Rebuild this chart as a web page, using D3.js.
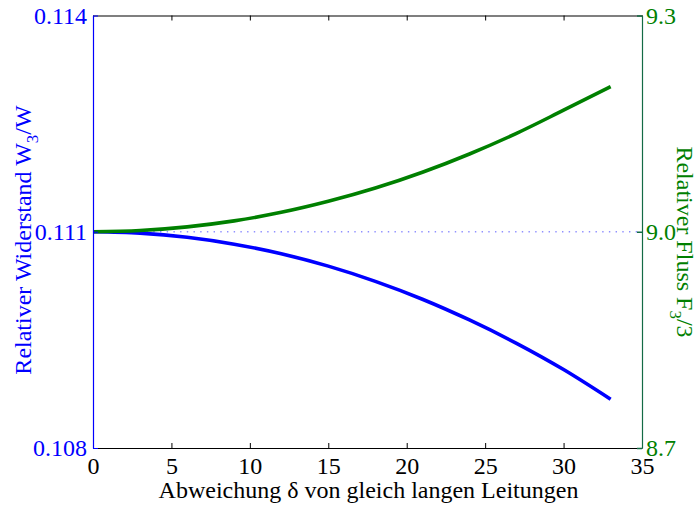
<!DOCTYPE html>
<html>
<head>
<meta charset="utf-8">
<script src="https://cdn.jsdelivr.net/npm/d3@7"></script>
</head>
<body style="margin:0;background:#fff">
<svg id="chart" width="697" height="506" style="display:block"></svg>
<script>
// Data
const delta = [0, 3, 6, 9, 12, 15, 18, 21, 24, 27, 30, 33];
const resistance = [0.111, 0.110981, 0.110924, 0.110828, 0.110695, 0.110523, 0.110312, 0.110064, 0.109776, 0.109452, 0.109088, 0.108676];
const flux = [9.000, 9.0017, 9.0068, 9.0151, 9.0269, 9.0422, 9.0606, 9.0825, 9.1079, 9.1365, 9.1686, 9.2012];
const xTicks = [0, 5, 10, 15, 20, 25, 30, 35];
const leftTicks = [0.108, 0.111, 0.114];
const rightTicks = [8.7, 9.0, 9.3];
const refLevel = 0.111;

const m = { left: 93, right: 642, top: 15.5, bottom: 448 };
const FONT = "'Liberation Serif'";
const fs = 24;

const svg = d3.select("#chart");

const x = d3.scaleLinear().domain([0, 35]).range([m.left, m.right]);
const yL = d3.scaleLinear().domain([0.108, 0.114]).range([m.bottom, m.top]);
const yR = d3.scaleLinear().domain([8.7, 9.3]).range([m.bottom, m.top]);

// dotted reference line
svg.append("line")
  .attr("x1", x(0)).attr("x2", x(35))
  .attr("y1", yL(refLevel)).attr("y2", yL(refLevel))
  .attr("stroke", "#9090ff").attr("stroke-width", 1.4)
  .attr("stroke-dasharray", "1.4,5.3");

// curves
const lineL = d3.line().x((d, i) => x(delta[i])).y(d => yL(d)).curve(d3.curveMonotoneX);
const lineR = d3.line().x((d, i) => x(delta[i])).y(d => yR(d)).curve(d3.curveMonotoneX);

svg.append("path").datum(resistance).attr("d", lineL)
  .attr("fill", "none").attr("stroke", "#0000ff").attr("stroke-width", 3.6);
svg.append("path").datum(flux).attr("d", lineR)
  .attr("fill", "none").attr("stroke", "#008000").attr("stroke-width", 3.6);

function styleText(sel, color) {
  sel.attr("font-family", "Liberation Serif").style("font-family", FONT)
     .attr("font-size", fs).attr("fill", color);
}

// bottom axis
const gB = svg.append("g").attr("transform", `translate(0,${m.bottom})`)
  .call(d3.axisBottom(x).tickValues(xTicks).tickSizeInner(-5).tickSizeOuter(0).tickPadding(9).tickFormat(d3.format("d")));
gB.attr("font-family", null).attr("font-size", null);
gB.select(".domain").attr("stroke", "#000").attr("stroke-width", 1.2);
gB.selectAll(".tick line").attr("stroke", "#000");
styleText(gB.selectAll(".tick text"), "#000");
gB.selectAll(".tick text").attr("dy", "0.71em");

// top axis
const gT = svg.append("g").attr("transform", `translate(0,${m.top})`)
  .call(d3.axisTop(x).tickValues(xTicks).tickSizeInner(-5).tickSizeOuter(0).tickFormat(""));
gT.select(".domain").attr("stroke", "#000").attr("stroke-width", 1.2);
gT.selectAll(".tick line").attr("stroke", "#000");

// left axis
const gL = svg.append("g").attr("transform", `translate(${m.left},0)`)
  .call(d3.axisLeft(yL).tickValues(leftTicks).tickSizeInner(-5).tickSizeOuter(0).tickPadding(6).tickFormat(d3.format(".3f")));
gL.attr("font-family", null).attr("font-size", null);
gL.select(".domain").attr("stroke", "#0000ff").attr("stroke-width", 1.2);
gL.selectAll(".tick line").attr("stroke", "#0000ff");
styleText(gL.selectAll(".tick text"), "#0000ff");

// right axis
const gR = svg.append("g").attr("transform", `translate(${m.right},0)`)
  .call(d3.axisRight(yR).tickValues(rightTicks).tickSizeInner(-5).tickSizeOuter(0).tickPadding(4).tickFormat(d3.format(".1f")));
gR.attr("font-family", null).attr("font-size", null);
gR.select(".domain").attr("stroke", "#136b45").attr("stroke-width", 1.2);
gR.selectAll(".tick line").attr("stroke", "#136b45").attr("stroke-width", 1.5);
styleText(gR.selectAll(".tick text"), "#008000");

// x axis title
styleText(svg.append("text")
  .attr("x", (m.left + m.right) / 2 + 1).attr("y", 498)
  .attr("text-anchor", "middle")
  .text("Abweichung δ von gleich langen Leitungen"), "#000");

// left axis title
const tL = svg.append("text")
  .attr("transform", `translate(31,240) rotate(-90)`)
  .attr("text-anchor", "middle");
styleText(tL, "#0000ff");
tL.append("tspan").text("Relativer Widerstand W");
tL.append("tspan").attr("font-size", 17).attr("dy", 7).text("3");
tL.append("tspan").attr("dy", -7).text("/W");

// right axis title
const tR = svg.append("text")
  .attr("transform", `translate(677,242) rotate(90)`)
  .attr("text-anchor", "middle");
styleText(tR, "#008000");
tR.append("tspan").text("Relativer Fluss F");
tR.append("tspan").attr("font-size", 17).attr("dy", 7).text("3");
tR.append("tspan").attr("dy", -7).text("/3");
</script>
</body>
</html>
